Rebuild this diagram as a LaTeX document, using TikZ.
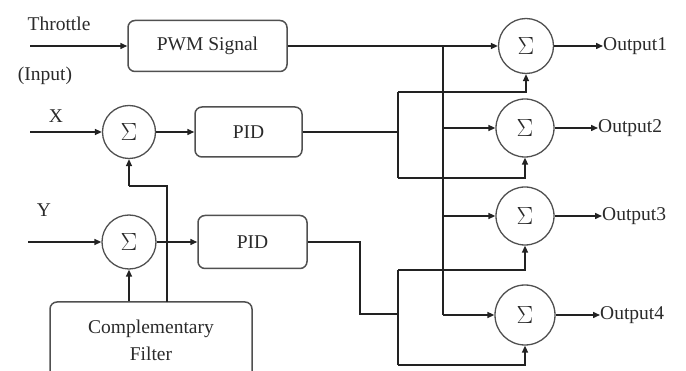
\documentclass[tikz,border=0pt]{standalone}
\usepackage{fontspec}
\setmainfont{Liberation Serif}
\usetikzlibrary{arrows.meta}
\definecolor{ln}{HTML}{222222}
\definecolor{bx}{HTML}{505050}
\definecolor{tx}{HTML}{2A2A2A}
\tikzset{
  lbl/.style={text=tx,font=\fontsize{19.5}{22}\selectfont,inner sep=0pt},
  blk/.style={draw=bx,line width=1.5pt,rounded corners=7pt,text=tx,font=\fontsize{19.5}{22}\selectfont,inner sep=0pt},
  sumnode/.style={draw=bx,line width=1.3pt,circle,inner sep=0pt,text=tx,font=\fontsize{24}{26}\selectfont},
  wire/.style={draw=ln,line width=1.5pt},
  arr/.style={wire,-{Triangle[length=7pt,width=6pt]}}
}
\begin{document}
\begin{tikzpicture}[x=1pt,y=-1pt]
\useasboundingbox (0,0) rectangle (686,371);
\clip (0,0) rectangle (686,371);
% blocks
\node[blk,minimum width=159pt,minimum height=51pt] (pwm) at (207.5,46) {PWM Signal};
\node[blk,minimum width=107pt,minimum height=50pt] (pid1) at (248.5,132) {PID};
\node[blk,minimum width=109pt,minimum height=53pt] (pid2) at (252.5,242) {PID};
\node[blk,minimum width=202pt,minimum height=88pt] (cf) at (151,346) {};
\node[lbl,align=center] (cft) at (151,340) {Complementary\\[5pt]Filter};
% summing junctions
\node[sumnode,minimum size=53pt] (sx) at (129,132) {$\Sigma$};
\node[sumnode,minimum size=54pt] (sy) at (129,242) {$\Sigma$};
\node[sumnode,minimum size=55pt] (s1) at (526,46) {$\Sigma$};
\node[sumnode,minimum size=58pt] (s2) at (525,128) {$\Sigma$};
\node[sumnode,minimum size=58pt] (s3) at (525,216) {$\Sigma$};
\node[sumnode,minimum size=60pt] (s4) at (525,315) {$\Sigma$};
% labels
\node[lbl] (thr) at (59,24) {Throttle};
\node[lbl] (inp) at (45,76) {(Input)};
\node[lbl] (xl) at (56,116) {X};
\node[lbl] (yl) at (44,210) {Y};
\node[lbl,anchor=west] (o1) at (603,46) {Output1};
\node[lbl,anchor=west] (o2) at (598,128) {Output2};
\node[lbl,anchor=west] (o3) at (602,216) {Output3};
\node[lbl,anchor=west] (o4) at (600,315) {Output4};
% coordinates
\coordinate (tin) at (30,46);
\coordinate (xin) at (30,132);
\coordinate (yin) at (28,242);
\coordinate (ja) at (443,46);
\coordinate (jb) at (443,315);
\coordinate (pa) at (398,132);
\coordinate (pb) at (398,92);
\coordinate (pc) at (398,178);
\coordinate (qa) at (360,242);
\coordinate (qb) at (360,314);
\coordinate (qc) at (398,314);
\coordinate (qd) at (398,270);
\coordinate (qe) at (398,365);
\coordinate (fa) at (167,302);
\coordinate (fb) at (167,186);
\coordinate (fc) at (129,186);
% wires
\draw[arr] (tin) -- (pwm.west);
\draw[wire] (pwm.east) -- (ja);
\draw[arr] (ja) -- (s1.west);
\draw[wire] (ja) -- (jb);
\draw[arr] (443,128) -- (s2.west);
\draw[arr] (443,216) -- (s3.west);
\draw[arr] (jb) -- (s4.west);
\draw[wire] (pid1.east) -- (pa);
\draw[wire] (pb) -- (pc);
\draw[arr] (pb) -| (s1.south);
\draw[arr] (pc) -| (s2.south);
\draw[wire] (pid2.east) -- (qa) -- (qb) -- (qc);
\draw[wire] (qd) -- (qe);
\draw[arr] (qd) -| (s3.south);
\draw[arr] (qe) -| (s4.south);
\draw[arr] (xin) -- (sx.west);
\draw[arr] (yin) -- (sy.west);
\draw[arr] (sx.east) -- (pid1.west);
\draw[arr] (sy.east) -- (pid2.west);
\draw[wire] (fa) -- (fb) -- (fc);
\draw[arr] (fc) -- (sx.south);
\draw[arr] (sy.south |- cf.north) -- (sy.south);
\draw[arr] (s1.east) -- (o1.west);
\draw[arr] (s2.east) -- (o2.west);
\draw[arr] (s3.east) -- (o3.west);
\draw[arr] (s4.east) -- (o4.west);
\end{tikzpicture}
\end{document}
